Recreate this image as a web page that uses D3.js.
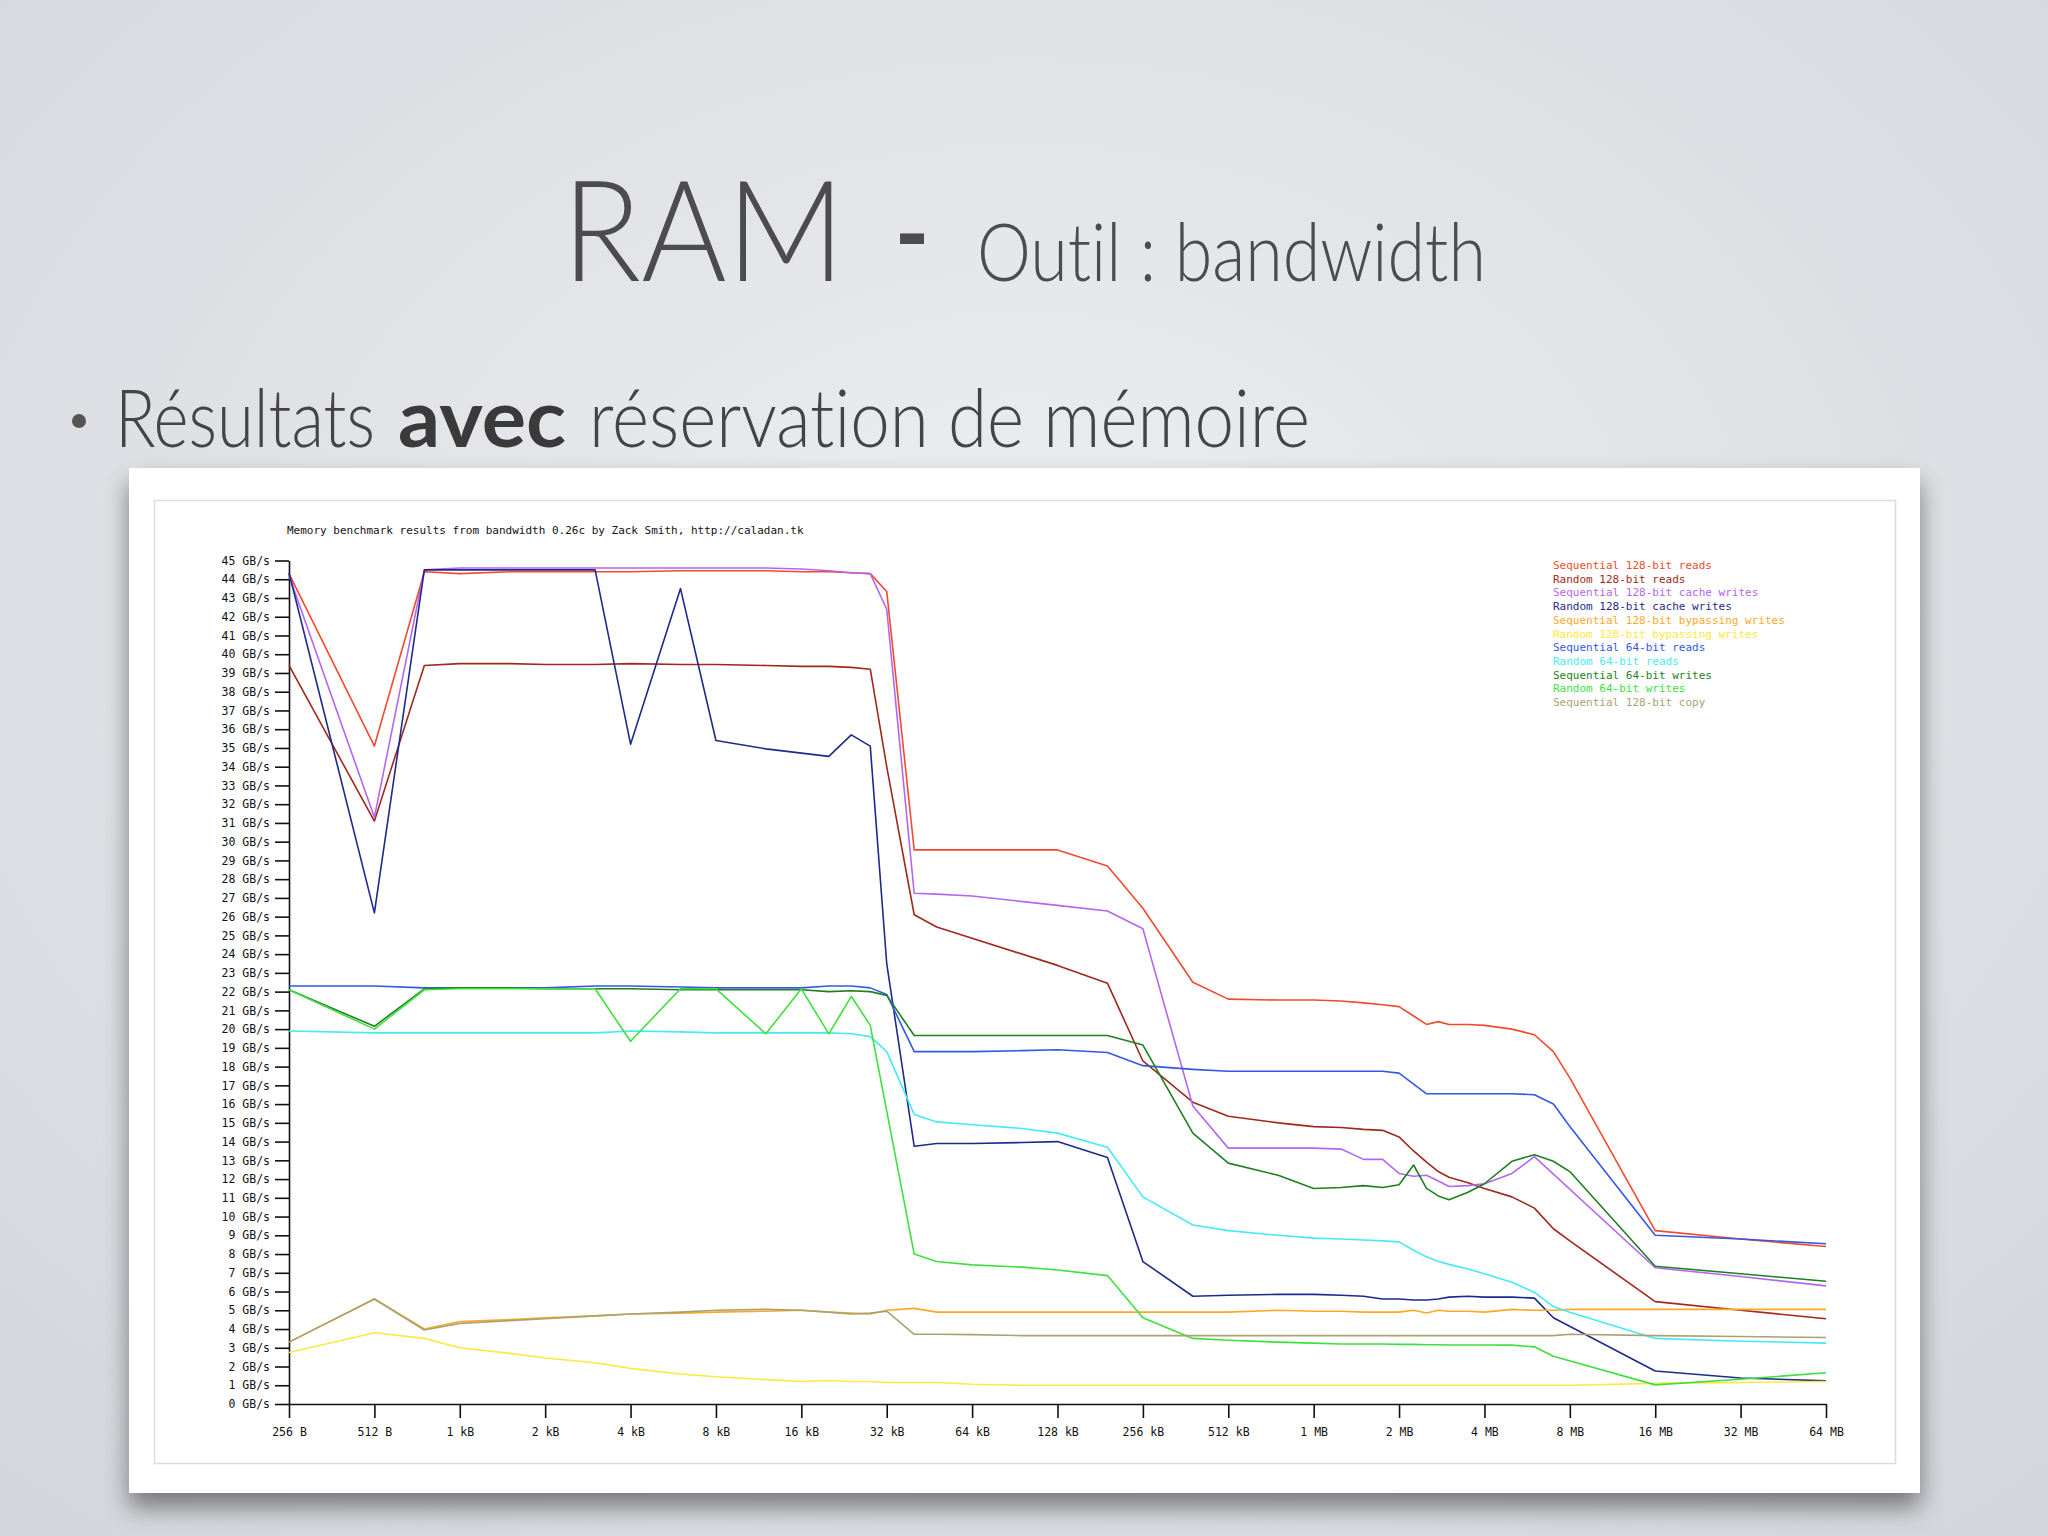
<!DOCTYPE html>
<html>
<head>
<meta charset="utf-8">
<script src="https://cdn.jsdelivr.net/npm/d3@7"></script>
<style>
  html, body { margin: 0; padding: 0; background: #e3e4e7; }
  svg { display: block; }
  text { font-variant-ligatures: none; }
  .mono { font-family: "DejaVu Sans Mono", "Liberation Mono", monospace; }
</style>
</head>
<body>
<svg id="slide" width="2048" height="1536"></svg>
<script>
// test sizes in kB (bandwidth chunk sizes)
const sizesKB = [0.25, 0.5, 0.75, 1, 1.5, 2, 3, 4, 6, 8, 12, 16, 20, 24, 28, 32, 40, 48, 64, 96,
  128, 192, 256, 384, 512, 768, 1024, 1280, 1536, 1792, 2048, 2304, 2560, 2816, 3072, 3584,
  4096, 5120, 6144, 7168, 8192, 12288, 16384, 32768, 65536];

// GB/s, one value per size (null = no visible point)
const seqRead128 = [44.3, 35.1, 44.4, 44.3, 44.4, 44.4, 44.4, 44.4, 44.45, 44.45, 44.45, 44.4, 44.4, 44.35, 44.3, 43.35, 29.56, 29.56, 29.56, 29.56,
  29.56, 28.7, 26.45, 22.5, 21.6, 21.55, 21.55, 21.5, 21.4, 21.3, 21.2, 20.7, 20.25, 20.4, 20.25, 20.25,
  20.2, 20.0, 19.7, 18.8, 17.4, null, 9.25, 8.8, 8.4];
const randRead128 = [39.4, 31.1, 39.4, 39.5, 39.5, 39.45, 39.45, 39.5, 39.45, 39.45, 39.4, 39.35, 39.35, 39.3, 39.2, 34.0, 26.1, 25.45, null, null,
  23.4, 22.45, 18.3, 16.1, 15.35, 15.0, 14.8, 14.75, 14.65, 14.6, 14.25, 13.5, 12.9, 12.4, 12.1, 11.8,
  11.5, 11.05, 10.45, 9.35, 8.7, null, 5.46, 5.0, 4.55];
const seqCacheWrite128 = [44.2, 31.3, 44.5, 44.6, 44.6, 44.6, 44.6, 44.6, 44.6, 44.6, 44.6, 44.55, 44.45, 44.35, 44.3, 42.4, 27.25, 27.2, 27.1, null,
  26.6, 26.3, 25.35, 15.9, 13.65, 13.65, 13.65, 13.6, 13.05, 13.05, 12.3, 12.15, 12.2, 11.9, 11.6, 11.65,
  11.75, 12.3, 13.2, null, null, null, 7.27, 6.8, 6.3];
const randCacheWrite128 = [44.35, 26.2, 44.5, 44.5, 44.5, 44.5, 44.5, 35.2, 43.5, 35.4, 34.95, null, 34.55, 35.7, 35.1, 23.5, 13.75, 13.9, 13.9, 13.95,
  14.0, 13.15, 7.6, 5.75, 5.8, 5.85, 5.85, 5.8, 5.75, 5.6, 5.6, 5.55, 5.55, 5.6, 5.7, 5.75,
  5.7, 5.7, 5.65, 4.6, null, null, 1.76, 1.39, 1.24];
const seqBypassWrite128 = [3.3, 5.6, 4.0, 4.4, 4.5, 4.6, 4.7, 4.8, 4.85, 4.9, 4.95, 5.0, 4.9, 4.85, 4.8, 5.0, 5.1, 4.9, 4.9, 4.9,
  4.9, 4.9, 4.9, 4.9, 4.9, 5.0, 4.95, 4.95, 4.9, 4.9, 4.9, 5.0, 4.85, 5.0, 4.95, 4.95,
  4.9, 5.05, 5.0, 5.0, 5.05, null, 5.05, 5.05, 5.05];
const randBypassWrite128 = [2.75, 3.8, 3.5, 3.0, 2.7, 2.45, 2.2, 1.9, 1.6, 1.45, 1.3, 1.2, 1.25, 1.2, 1.2, 1.15, 1.15, 1.15, 1.05, 1.0,
  1.0, 1.0, 1.0, 1.0, 1.0, 1.0, 1.0, 1.0, 1.0, 1.0, 1.0, 1.0, 1.0, 1.0, 1.0, 1.0,
  1.0, 1.0, 1.0, 1.0, 1.0, null, 1.1, 1.15, 1.2];
const seqRead64 = [22.3, 22.3, 22.2, 22.2, 22.2, 22.2, 22.3, 22.3, 22.25, 22.2, 22.2, 22.2, 22.3, 22.3, 22.2, 21.85, 18.8, 18.8, 18.8, 18.85,
  18.9, 18.75, 18.05, 17.85, 17.75, 17.75, 17.75, 17.75, 17.75, 17.75, 17.65, null, 16.55, 16.55, 16.55, 16.55,
  16.55, 16.55, 16.5, 16.0, 14.8, null, 9.0, 8.8, 8.55];
const randRead64 = [19.9, 19.8, 19.8, 19.8, 19.8, 19.8, 19.8, 19.9, 19.85, 19.8, 19.8, 19.8, 19.8, 19.75, 19.6, 18.8, 15.45, 15.05, 14.9, 14.7,
  14.45, 13.7, 11.05, 9.55, 9.25, 9.0, 8.85, 8.8, 8.75, 8.7, 8.65, 8.2, 7.85, 7.6, 7.45, 7.2,
  6.95, 6.5, 5.95, 5.2, 4.9, null, 3.5, 3.35, 3.25];
const seqWrite64 = [22.1, 20.15, 22.15, 22.2, 22.2, 22.15, 22.15, 22.15, 22.1, 22.1, 22.1, 22.1, 22.0, 22.05, 22.0, 21.8, 19.66, 19.66, 19.66, 19.66,
  19.66, 19.66, 19.15, 14.45, 12.85, 12.2, 11.5, 11.55, 11.65, 11.55, 11.7, 12.75, 11.5, 11.1, 10.9, 11.3,
  11.75, 12.95, 13.3, 12.95, 12.4, null, 7.35, 6.95, 6.55];
const randWrite64 = [22.1, 20.0, 22.1, 22.15, 22.15, 22.15, 22.15, 19.35, 22.15, 22.15, 19.75, 22.15, 19.75, 21.75, 20.2, null, 8.0, 7.6, 7.42, 7.3,
  7.15, 6.85, 4.6, 3.5, 3.4, 3.3, 3.25, 3.2, 3.2, 3.2, 3.18, 3.18, 3.16, 3.16, 3.15, 3.15,
  3.15, 3.14, 3.05, 2.55, null, null, 1.02, 1.32, 1.67];
const seqCopy128 = [3.3, 5.6, 3.95, 4.3, 4.45, 4.55, 4.7, 4.8, 4.9, 5.0, 5.05, 5.0, 4.9, 4.8, 4.85, 4.95, 3.72, 3.72, 3.7, 3.65,
  3.65, 3.65, 3.65, 3.65, 3.65, 3.65, 3.65, 3.65, 3.65, 3.65, 3.65, 3.65, 3.65, 3.65, 3.65, 3.65,
  3.65, 3.65, 3.65, 3.65, 3.72, null, 3.65, 3.6, 3.55];

const seriesNames = ["Sequential 128-bit reads", "Random 128-bit reads", "Sequential 128-bit cache writes",
  "Random 128-bit cache writes", "Sequential 128-bit bypassing writes", "Random 128-bit bypassing writes",
  "Sequential 64-bit reads", "Random 64-bit reads", "Sequential 64-bit writes", "Random 64-bit writes",
  "Sequential 128-bit copy"];
const seriesColors = ["#f24a2c", "#a0281c", "#b466f0", "#1e2a8c", "#ffa828", "#ffe840",
  "#3457e6", "#46eaf4", "#1f7f22", "#3ee03e", "#aaa272"];
const seriesValues = [seqRead128, randRead128, seqCacheWrite128, randCacheWrite128, seqBypassWrite128,
  randBypassWrite128, seqRead64, randRead64, seqWrite64, randWrite64, seqCopy128];

const tickKB = [0.25, 0.5, 1, 2, 4, 8, 16, 32, 64, 128, 256, 512, 1024, 2048, 4096, 8192, 16384, 32768, 65536];
const tickLabels = ["256 B", "512 B", "1 kB", "2 kB", "4 kB", "8 kB", "16 kB", "32 kB", "64 kB", "128 kB",
  "256 kB", "512 kB", "1 MB", "2 MB", "4 MB", "8 MB", "16 MB", "32 MB", "64 MB"];

const svg = d3.select('#slide');
const defs = svg.append('defs');

// slide background
const bg = defs.append('radialGradient').attr('id', 'bg').attr('cx', '50%').attr('cy', '40%').attr('r', '75%');
bg.append('stop').attr('offset', '0%').attr('stop-color', '#eceef1');
bg.append('stop').attr('offset', '100%').attr('stop-color', '#d4d6db');
svg.append('rect').attr('width', 2048).attr('height', 1536).attr('fill', 'url(#bg)');

// headings: each word group squeezed horizontally to where the slide has it
const headFont = 'Lato, "Open Sans", sans-serif';
function heading(str, x0, x1, base, size, weight, color) {
  const t = svg.append('text').attr('font-family', headFont).attr('font-weight', weight)
    .attr('font-size', size).attr('fill', color).text(str);
  const w = t.node().getComputedTextLength();
  t.attr('transform', `translate(${x0},${base}) scale(${(x1 - x0) / w},1)`);
}
heading('RAM', 562, 845, 281, 140, 300, '#4c4c4e');
heading('-', 894, 930, 281, 140, 400, '#4c4c4e');
heading('Outil : bandwidth', 977, 1486, 281, 80, 300, '#4c4c4e');

svg.append('circle').attr('cx', 79).attr('cy', 421).attr('r', 7).attr('fill', '#555');
heading('Résultats', 115, 375, 447, 80, 300, '#444');
heading('avec', 398, 566, 447, 80, 700, '#3a3a3a');
heading('réservation de mémoire', 589, 1310, 447, 80, 300, '#444');

// chart picture with shadow
const shadow = defs.append('filter').attr('id', 'shadow').attr('x', '-5%').attr('y', '-5%').attr('width', '110%').attr('height', '115%');
shadow.append('feDropShadow').attr('dx', 0).attr('dy', 14).attr('stdDeviation', 12).attr('flood-color', '#000').attr('flood-opacity', 0.45);
svg.append('rect').attr('x', 129).attr('y', 468).attr('width', 1791).attr('height', 1025)
  .attr('fill', '#fff').attr('filter', 'url(#shadow)');
svg.append('rect').attr('x', 154.5).attr('y', 500.5).attr('width', 1741).attr('height', 963)
  .attr('fill', 'none').attr('stroke', '#dcdcdc').attr('stroke-width', 1.5);

// scales
const x = d3.scaleLog().base(2).domain([0.25, 65536]).range([289, 1826]);
const y = d3.scaleLinear().domain([0, 45]).range([1404, 560.5]);

svg.append('text').attr('class', 'mono').attr('x', 287).attr('y', 534).attr('font-size', 11).attr('fill', '#111')
  .text('Memory benchmark results from bandwidth 0.26c by Zack Smith, http://caladan.tk');

// axes
const yAxis = svg.append('g').attr('transform', 'translate(289,0)')
  .call(d3.axisLeft(y).tickValues(d3.range(0, 46)).tickSize(14).tickSizeOuter(0).tickPadding(5)
    .tickFormat(d => d + ' GB/s'));
const xAxis = svg.append('g').attr('transform', 'translate(0,1404)')
  .call(d3.axisBottom(x).tickValues(tickKB).tickSize(14).tickSizeOuter(0).tickPadding(10)
    .tickFormat((d, i) => tickLabels[i]));
[yAxis, xAxis].forEach(g => {
  g.selectAll('path, line').attr('stroke', '#111').attr('stroke-width', 1.6);
  g.selectAll('text').attr('class', 'mono').attr('font-size', 11.5).attr('fill', '#111');
});

// series lines
const line = d3.line().x(d => x(d.kb)).y(d => y(d.v));
seriesValues.forEach((vals, s) => {
  const pts = vals.map((v, i) => ({ kb: sizesKB[i], v })).filter(d => d.v != null);
  svg.append('path').datum(pts).attr('d', line).attr('fill', 'none')
    .attr('stroke', seriesColors[s]).attr('stroke-width', 1.6).attr('stroke-linejoin', 'round');
});

// legend
const legend = svg.append('g').attr('class', 'mono');
seriesNames.forEach((name, i) => {
  legend.append('text').attr('x', 1553).attr('y', 569 + i * 13.7).attr('font-size', 11)
    .attr('fill', seriesColors[i]).text(name);
});
</script>
</body>
</html>
